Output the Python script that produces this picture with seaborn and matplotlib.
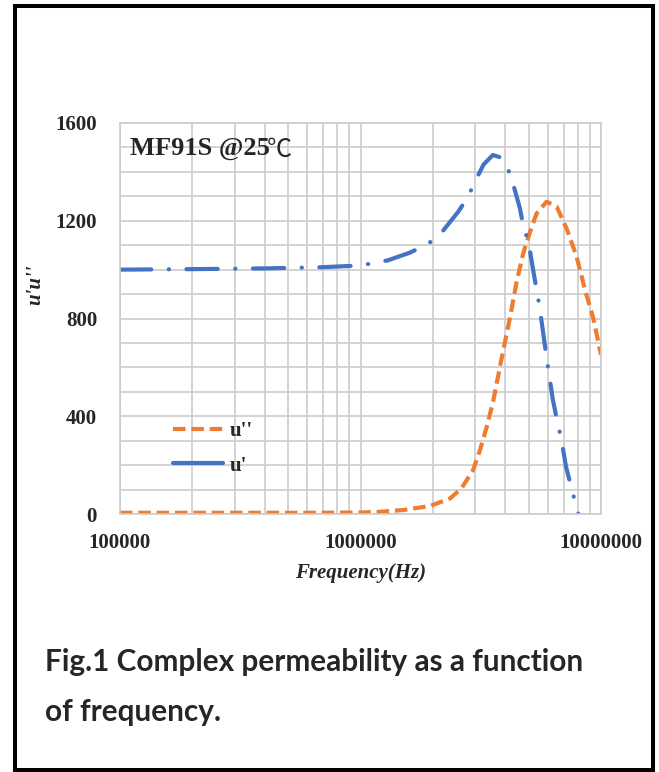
import matplotlib
matplotlib.use("Agg")
import matplotlib.pyplot as plt
import matplotlib.ticker as mticker
from matplotlib.lines import Line2D
from matplotlib.patches import Rectangle
import seaborn as sns
import pandas as pd

freq_u1 = [1e5, 2e5, 4e5, 7e5, 1.0e6, 1.3e6, 1.6e6, 1.9e6, 2.15e6, 2.55e6,
           2.8e6, 3.0e6, 3.25e6, 3.55e6, 3.8e6, 4.0e6, 4.25e6, 4.6e6, 4.75e6,
           5.0e6, 5.25e6, 5.55e6, 5.9e6, 6.3e6, 6.55e6, 6.85e6, 7.15e6,
           7.45e6, 7.8e6, 8.05e6, 8.2e6]
u1 = [1000, 1002, 1005, 1010, 1017, 1038, 1069, 1104, 1146, 1237,
      1298, 1363, 1430, 1469, 1460, 1439, 1373, 1251, 1180,
      1110, 985, 850, 660, 470, 388, 303, 194,
      126, 50, 0, -40]

# u'' (imaginary part)
freq_u2 = [1e5, 3e5, 6e5, 1.0e6, 1.2e6, 1.5e6, 1.95e6, 2.36e6, 2.63e6, 2.94e6,
           3.14e6, 3.35e6, 3.56e6, 3.85e6, 4.19e6, 4.46e6, 4.75e6, 5.07e6,
           5.4e6, 5.94e6, 6.54e6, 7.19e6, 7.92e6, 8.58e6, 9.29e6, 1e7]
u2 = [5, 5, 5, 6, 9, 16, 33, 64, 105, 180,
      262, 357, 460, 630, 807, 951, 1067, 1155,
      1230, 1278, 1258, 1169, 1053, 917, 801, 651]

x_ticks = [1e5, 1e6, 1e7]
y_ticks = [0, 400, 800, 1200, 1600]

df1 = pd.DataFrame({"freq": freq_u1, "val": u1})
df2 = pd.DataFrame({"freq": freq_u2, "val": u2})

sns.set_style("white")
serif = ["Liberation Serif", "DejaVu Serif"]

fig = plt.figure(figsize=(6.59, 7.72), dpi=100)
ax = fig.add_axes([120 / 659, 1 - 514 / 772, 481 / 659, 391 / 772])

blue = "#4472c4"
orange = "#ed7d31"

sns.lineplot(data=df2, x="freq", y="val", ax=ax, color=orange, lw=3.0,
             linestyle=(0, (3.0, 1.4)), dash_capstyle="butt", clip_on=True)
sns.lineplot(data=df1, x="freq", y="val", ax=ax, color=blue, lw=3.0,
             linestyle=(0, (7.5, 4.2, 0.05, 4.2)), dash_capstyle="round",
             clip_on=True)

ax.set_xscale("log")
ax.set_xlim(1e5, 1e7)
ax.set_ylim(0, 1600)
ax.set_xticks(x_ticks)
ax.xaxis.set_major_formatter(mticker.FuncFormatter(lambda v, p: f"{int(round(v))}"))
ax.xaxis.set_minor_locator(mticker.LogLocator(base=10, subs=range(2, 10)))
ax.xaxis.set_minor_formatter(mticker.NullFormatter())
ax.set_yticks(y_ticks)
ax.yaxis.set_minor_locator(mticker.MultipleLocator(100))

grid_c = "#cccccc"
ax.grid(True, which="both", color=grid_c, lw=1.2)
ax.set_axisbelow(True)
for s in ax.spines.values():
    s.set_color(grid_c)
    s.set_linewidth(1.2)

ax.tick_params(axis="both", which="both", length=0)
ax.tick_params(axis="y", pad=16.5)
ax.tick_params(axis="x", pad=13.5)
for lab in ax.get_xticklabels() + ax.get_yticklabels():
    lab.set_family(serif)
    lab.set_fontweight("bold")
    lab.set_fontsize(15)

ax.set_xlabel("Frequency(Hz)", family=serif, fontweight="bold", style="italic",
              fontsize=15, va="center")
ax.xaxis.set_label_coords(0.5, (514 - 573) / 391)
ax.set_ylabel("u'u''", family=serif, fontweight="bold", style="italic",
              fontsize=15, va="center")
ax.yaxis.set_label_coords((35.5 - 120) / 481, (514 - 285) / 391)

ax.text(0.021, 0.965, "MF91S @25", transform=ax.transAxes,
        family=serif, fontweight="bold", fontsize=19, va="top", ha="left")
ax.text(0.306, 0.965, "℃", transform=ax.transAxes,
        family=["Noto Sans CJK SC", "DejaVu Sans"], fontsize=18,
        va="top", ha="left")

handles = [Line2D([], [], color=orange, lw=3.0, linestyle=(0, (3.0, 1.4))),
           Line2D([], [], color=blue, lw=3.0, solid_capstyle="round")]
ax.legend(handles, ["u''", "u'"], loc="upper left",
          bbox_to_anchor=((173 - 120) / 481, (514 - 421) / 391),
          frameon=False, borderpad=0, borderaxespad=0, handlelength=2.4,
          handletextpad=0.3, labelspacing=0.7,
          prop={"family": serif, "weight": "bold", "size": 15})

fig.text(45 / 659, 1 - 662 / 772, "Fig.1 Complex permeability as a function",
         family="Lato", fontweight="bold", fontsize=21.4, va="center", ha="left")
fig.text(45 / 659, 1 - 712 / 772, "of frequency.",
         family="Lato", fontweight="bold", fontsize=21.4, va="center", ha="left")

fig.patches.append(Rectangle((14.5 / 659, 2 / 772), 638 / 659, 764 / 772,
                             transform=fig.transFigure, fill=False,
                             edgecolor="black", lw=2.9))

fig.savefig("out.png", dpi=100)
